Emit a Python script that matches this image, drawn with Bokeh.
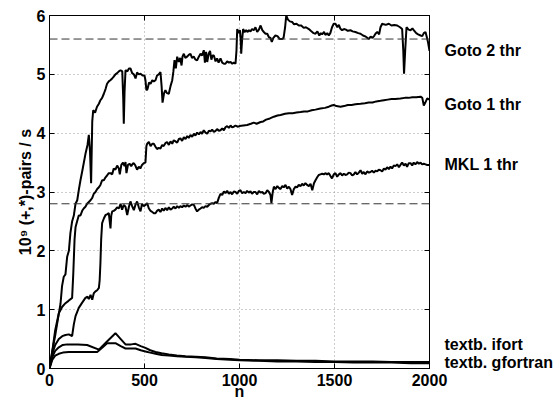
from bokeh.plotting import figure
from bokeh.models import Span, LinearAxis, Range1d, FixedTicker
from bokeh.embed import file_html
from bokeh.resources import INLINE

FONT = "Liberation Sans"

# ---------------- data ----------------
goto2_n = [0, 15, 32, 50, 58, 66, 75, 84, 93, 102, 110, 119, 128, 137, 146, 155, 163, 175, 190, 200, 207, 213, 219, 225,
           230, 240, 250, 260, 268, 277, 286, 295, 303, 312, 320, 330, 338, 347, 356, 365, 374, 383, 388, 391, 395,
           400, 410, 418, 426, 435, 444, 453, 461, 470, 479, 490, 500, 505, 510, 516, 524, 532, 541, 549, 558, 566,
           575, 584, 590, 595, 603, 610, 618, 628, 637, 646, 652, 658, 665, 672, 681, 688, 695, 700, 707, 715, 724,
           733, 742, 750, 760, 768, 777, 786, 795, 803, 812, 818, 824, 830, 838, 845, 852, 858, 865, 874, 882, 890,
           900, 909, 918, 926, 935, 944, 953, 962, 970, 979, 984, 988, 995, 1002, 1006, 1009, 1014, 1019, 1027, 1035,
           1043, 1050, 1058, 1066, 1075, 1084, 1093, 1102, 1111, 1120, 1128, 1137, 1146, 1155, 1163, 1170, 1178, 1189,
           1200, 1212, 1225, 1232, 1240, 1246, 1255, 1265, 1277, 1287, 1300, 1312, 1325, 1338, 1350, 1365, 1375, 1390,
           1400, 1410, 1420, 1428, 1435, 1445, 1452, 1462, 1470, 1478, 1487, 1496, 1505, 1515, 1523, 1530, 1540, 1550,
           1560, 1570, 1584, 1595, 1610, 1625, 1637, 1650, 1665, 1681, 1690, 1700, 1710, 1718, 1725, 1735, 1742, 1751,
           1760, 1770, 1786, 1800, 1815, 1830, 1845, 1856, 1862, 1866, 1872, 1879, 1890, 1900, 1910, 1917, 1930, 1940,
           1953, 1962, 1970, 1979, 1986, 1992, 2000]
goto2_y = [0.0, 0.3, 0.6, 0.95, 1.1, 1.4, 1.56, 1.6, 1.9, 2.0, 2.3, 2.5, 2.6, 2.8, 2.86, 3.05, 3.2, 3.4, 3.66, 3.8, 3.97, 3.7, 3.15, 4.2,
           4.39, 4.35, 4.45, 4.5, 4.56, 4.6, 4.67, 4.75, 4.84, 4.88, 4.9, 4.93, 4.96, 5.0, 5.02, 5.05, 5.07, 5.05, 4.6, 4.16, 4.7,
           5.07, 5.05, 5.1, 5.1, 5.02, 5.0, 4.93, 5.03, 5.0, 5.01, 4.98, 4.98, 4.9, 4.73, 4.75, 4.86, 4.84, 4.9, 4.88, 4.9, 4.98,
           5.0, 5.04, 4.8, 4.52, 4.68, 4.73, 4.68, 4.67, 4.8, 4.9, 5.05, 5.24, 5.1, 5.3, 5.21, 5.28, 5.15, 5.3, 5.35, 5.28, 5.3,
           5.33, 5.35, 5.28, 5.3, 5.25, 5.24, 5.3, 5.35, 5.32, 5.41, 5.2, 5.38, 5.21, 5.35, 5.4, 5.25, 5.32, 5.32, 5.22, 5.27, 5.2,
           5.27, 5.2, 5.18, 5.18, 5.22, 5.2, 5.21, 5.18, 5.2, 5.18, 5.4, 5.77, 5.7, 5.75, 5.6, 5.35, 5.6, 5.77, 5.72, 5.75,
           5.72, 5.75, 5.73, 5.77, 5.75, 5.8, 5.72, 5.76, 5.83, 5.75, 5.72, 5.69, 5.69, 5.63, 5.62, 5.55, 5.62, 5.66,
           5.65, 5.6, 5.6, 5.62, 5.8, 6.0, 5.93, 5.9, 5.89, 5.85, 5.86, 5.83, 5.83, 5.79, 5.8, 5.77, 5.74, 5.7,
           5.69, 5.73, 5.66, 5.7, 5.68, 5.72, 5.67, 5.7, 5.66, 5.7, 5.8, 5.86, 5.86, 5.8, 5.84, 5.78, 5.75, 5.77,
           5.76, 5.74, 5.75, 5.73, 5.72, 5.7, 5.69, 5.66, 5.64, 5.6, 5.64, 5.62, 5.66, 5.7, 5.72, 5.68, 5.8, 5.86,
           5.85, 5.84, 5.86, 5.83, 5.84, 5.83, 5.8, 5.77, 5.4, 5.01, 5.4, 5.8, 5.76, 5.75, 5.78, 5.75, 5.7, 5.68,
           5.66, 5.65, 5.7, 5.72, 5.63, 5.55, 5.4]

goto1_n = [0, 15, 30, 49, 67, 84, 100, 119, 125, 132, 137, 145, 154, 163, 172, 180, 189, 198, 207, 216, 225, 233, 242, 251,
           260, 268, 277, 286, 295, 303, 312, 321, 330, 338, 347, 356, 365, 370, 378, 387, 395, 400, 405, 413, 422, 430,
           438, 444, 452, 461, 470, 478, 487, 496, 505, 510, 514, 523, 532, 541, 549, 558, 566, 575, 584, 593, 601, 610,
           619, 628, 637, 646, 654, 663, 672, 681, 689, 698, 707, 716, 725, 733, 742, 751, 760, 768, 777, 786, 795, 803,
           812, 821, 830, 839, 848, 856, 865, 874, 882, 891, 900, 909, 918, 926, 935, 944, 953, 961, 970, 979, 990, 1000,
           1020, 1040, 1060, 1075, 1090, 1111, 1125, 1140, 1160, 1181, 1200, 1216, 1240, 1260, 1280, 1300, 1321, 1340,
           1360, 1380, 1400, 1426, 1450, 1470, 1485, 1496, 1510, 1532, 1550, 1570, 1590, 1610, 1637, 1660, 1680, 1700,
           1720, 1742, 1760, 1780, 1800, 1820, 1847, 1870, 1890, 1910, 1930, 1953, 1962, 1970, 1978, 1988, 2000]
goto1_y = [0.0, 0.3, 0.65, 0.94, 1.05, 1.11, 1.15, 1.2, 1.6, 2.2, 2.4, 2.5, 2.6, 2.6, 2.68, 2.72, 2.75, 2.8, 2.83, 2.86, 2.9, 2.97, 3.0, 3.05,
           3.08, 3.12, 3.2, 3.2, 3.25, 3.28, 3.32, 3.32, 3.3, 3.4, 3.38, 3.45, 3.4, 3.3, 3.46, 3.5, 3.44, 3.51, 3.32, 3.46, 3.48, 3.44,
           3.48, 3.49, 3.45, 3.38, 3.43, 3.4, 3.46, 3.49, 3.5, 3.78, 3.82, 3.85, 3.78, 3.82, 3.82, 3.77, 3.73, 3.75, 3.74, 3.8, 3.78, 3.83,
           3.85, 3.8, 3.86, 3.82, 3.88, 3.86, 3.84, 3.9, 3.91, 3.87, 3.93, 3.9, 3.95, 3.92, 3.97, 3.94, 3.99, 3.96, 4.01, 3.98, 4.02, 3.99,
           4.05, 4.01, 3.99, 4.04, 4.03, 4.06, 4.02, 4.04, 4.07, 4.04, 4.05, 4.08, 4.05, 4.1, 4.12, 4.09, 4.13, 4.1, 4.11, 4.13, 4.11, 4.12,
           4.13, 4.14, 4.16, 4.18, 4.16, 4.19, 4.2, 4.23, 4.25, 4.28, 4.3, 4.31, 4.33, 4.34, 4.34, 4.35, 4.36, 4.37,
           4.37, 4.39, 4.4, 4.42, 4.43, 4.45, 4.47, 4.48, 4.46, 4.45, 4.46, 4.48, 4.48, 4.49, 4.5, 4.51, 4.52, 4.52,
           4.54, 4.55, 4.56, 4.57, 4.58, 4.58, 4.59, 4.6, 4.6, 4.61, 4.61, 4.62, 4.6, 4.47, 4.52, 4.59, 4.57]

mkl1_n = [0, 15, 30, 49, 67, 84, 102, 119, 128, 137, 154, 172, 189, 200, 207, 216, 225, 233, 242, 251, 260, 264, 268, 272, 277,
          286, 295, 303, 312, 317, 321, 325, 330, 338, 347, 356, 365, 374, 382, 391, 400, 409, 418, 426, 435, 444, 452, 461,
          470, 479, 487, 496, 505, 514, 523, 532, 541, 549, 558, 566, 575, 584, 593, 601, 610, 619, 628, 637, 646, 654, 663,
          672, 681, 689, 698, 707, 716, 725, 733, 742, 751, 760, 768, 777, 786, 795, 803, 812, 821, 830, 839, 848, 856, 865,
          874, 882, 891, 900, 909, 918, 926, 935, 944, 953, 961, 970, 979, 988, 997, 1005, 1014, 1023, 1032, 1040, 1049,
          1058, 1066, 1075, 1084, 1093, 1102, 1111, 1120, 1128, 1137, 1146, 1155, 1163, 1168, 1175, 1181, 1190, 1199, 1207,
          1216, 1225, 1233, 1242, 1251, 1260, 1268, 1277, 1286, 1295, 1303, 1312, 1321, 1330, 1338, 1347, 1356, 1365, 1374,
          1383, 1392, 1400, 1409, 1417, 1426, 1435, 1444, 1452, 1461, 1470, 1479, 1487, 1496, 1505, 1514, 1523, 1532, 1540,
          1549, 1558, 1567, 1575, 1584, 1593, 1602, 1610, 1619, 1628, 1637, 1646, 1654, 1663, 1672, 1681, 1689, 1698, 1707,
          1716, 1725, 1733, 1742, 1751, 1760, 1768, 1777, 1786, 1795, 1803, 1812, 1821, 1830, 1839, 1847, 1856, 1865, 1874,
          1882, 1891, 1900, 1909, 1917, 1926, 1935, 1944, 1953, 1961, 1970, 1979, 1988, 2000]
mkl1_y = [0.0, 0.25, 0.4, 0.5, 0.55, 0.57, 0.58, 0.55, 0.75, 0.89, 1.03, 1.12, 1.2, 1.22, 1.18, 1.25, 1.17, 1.28, 1.31, 1.33, 1.37, 1.5, 1.79, 2.2, 2.47,
          2.55, 2.61, 2.62, 2.64, 2.5, 2.38, 2.6, 2.67, 2.68, 2.7, 2.74, 2.72, 2.8, 2.7, 2.78, 2.75, 2.61, 2.75, 2.84, 2.76, 2.69, 2.78, 2.84,
          2.74, 2.67, 2.8, 2.76, 2.78, 2.81, 2.72, 2.68, 2.66, 2.64, 2.64, 2.68, 2.7, 2.66, 2.72, 2.68, 2.73, 2.69, 2.74, 2.7, 2.72, 2.75, 2.72,
          2.76, 2.73, 2.76, 2.74, 2.77, 2.75, 2.78, 2.75, 2.77, 2.79, 2.78, 2.72, 2.67, 2.7, 2.72, 2.74, 2.73, 2.76, 2.75, 2.78, 2.8, 2.81, 2.8,
          2.83, 2.81, 2.9, 2.97, 2.95, 3.01, 2.98, 3.02, 2.97, 3.0, 2.96, 3.01, 3.0, 2.97, 3.02, 3.03, 2.98, 3.0, 2.98, 3.02, 2.99,
          3.01, 2.97, 3.0, 3.0, 2.96, 3.02, 2.99, 3.0, 2.97, 2.98, 3.03, 3.0, 2.95, 2.81, 3.0, 3.09, 3.05, 3.1, 3.07,
          3.05, 3.1, 3.08, 3.12, 3.06, 3.09, 3.05, 2.95, 3.05, 3.09, 3.08, 3.12, 3.1, 3.14, 3.11, 3.15, 3.12, 3.1, 3.14,
          3.03, 3.15, 3.2, 3.25, 3.29, 3.3, 3.31, 3.3, 3.32, 3.3, 3.32, 3.27, 3.23, 3.3, 3.32, 3.26, 3.3, 3.32, 3.28,
          3.31, 3.29, 3.3, 3.33, 3.32, 3.28, 3.3, 3.34, 3.3, 3.33, 3.37, 3.31, 3.34, 3.3, 3.35, 3.33, 3.34, 3.36, 3.33,
          3.36, 3.35, 3.38, 3.37, 3.35, 3.4, 3.38, 3.42, 3.39, 3.43, 3.4, 3.45, 3.44, 3.47, 3.42, 3.46, 3.5, 3.45, 3.48,
          3.43, 3.49, 3.49, 3.45, 3.5, 3.47, 3.51, 3.48, 3.5, 3.47, 3.48, 3.47, 3.46, 3.46]

ifort_n = [0, 15, 30, 49, 70, 93, 150, 198, 260, 300, 347, 375, 400, 430, 453, 480, 505, 530, 558, 590, 628, 670, 716, 770,
           821, 880, 950, 1000, 1100, 1200, 1300, 1400, 1500, 1600, 1700, 1800, 1900, 2000]
ifort_y = [0.0, 0.2, 0.3, 0.36, 0.4, 0.41, 0.41, 0.40, 0.32, 0.45, 0.6, 0.5, 0.41, 0.41, 0.42, 0.38, 0.35, 0.31, 0.28, 0.26, 0.24,
           0.22, 0.21, 0.2, 0.19, 0.17, 0.16, 0.15, 0.14, 0.14, 0.13, 0.13, 0.12, 0.12, 0.12, 0.11, 0.11, 0.11]

gfort_n = [0, 15, 30, 49, 70, 102, 150, 200, 251, 280, 303, 347, 375, 400, 430, 453, 480, 505, 530, 558, 590, 628, 670, 716,
           770, 821, 880, 950, 1000, 1100, 1200, 1300, 1400, 1500, 1600, 1700, 1800, 1900, 2000]
gfort_y = [0.0, 0.15, 0.22, 0.25, 0.27, 0.28, 0.28, 0.28, 0.28, 0.36, 0.43, 0.43, 0.38, 0.34, 0.34, 0.34, 0.31, 0.29, 0.27, 0.25,
           0.23, 0.22, 0.21, 0.2, 0.19, 0.18, 0.16, 0.15, 0.14, 0.13, 0.12, 0.12, 0.11, 0.11, 0.1, 0.1, 0.1, 0.09, 0.09]

peak_levels = [5.6, 2.8]
series_labels = ["Goto 2 thr", "Goto 1 thr", "MKL 1 thr", "textb. ifort", "textb. gfortran"]
x_ticks = [0, 500, 1000, 1500, 2000]
y_ticks = [0, 1, 2, 3, 4, 5, 6]

# ---------------- figure ----------------
p = figure(width=558, height=402, x_range=Range1d(0, 2000), y_range=Range1d(0, 6),
           output_backend="svg", toolbar_location=None,
           min_border_left=49, min_border_right=129, min_border_top=15, min_border_bottom=4)
p.background_fill_color = "white"
p.border_fill_color = "white"
p.outline_line_color = "black"
p.outline_line_width = 1

for ax in (p.xaxis[0], p.yaxis[0]):
    ax.axis_line_color = "black"
    ax.major_tick_in = 5
    ax.major_tick_out = 0
    ax.minor_tick_line_color = None
    ax.major_label_text_font = FONT
    ax.major_label_text_font_size = "16px"
    ax.major_label_text_font_style = "bold"
    ax.major_label_text_color = "black"
    ax.axis_label_text_font = FONT
    ax.axis_label_text_font_size = "16px"
    ax.axis_label_text_font_style = "bold"
    ax.axis_label_text_color = "black"

p.xaxis[0].ticker = FixedTicker(ticks=x_ticks)
p.yaxis[0].ticker = FixedTicker(ticks=y_ticks)
p.xaxis[0].axis_label = "n"
p.yaxis[0].axis_label = "10\u2079 (+,*)-pairs / s"
p.xaxis[0].major_label_standoff = 5
p.xaxis[0].axis_label_standoff = -6
p.yaxis[0].major_label_standoff = 4
p.yaxis[0].axis_label_standoff = 0

# mirrored ticks on top (minor ticks only, no labels)
top_ax = LinearAxis(ticker=FixedTicker(ticks=[], minor_ticks=x_ticks),
                    major_tick_line_color=None, minor_tick_in=5, minor_tick_out=0,
                    minor_tick_line_color="black", axis_line_color="black",
                    major_label_standoff=0)
p.add_layout(top_ax, "above")

# right axis: series names as labels, mirrored integer ticks as minor ticks
label_y = [5.41, 4.49, 3.47, 0.41, 0.11]
right_ax = LinearAxis(ticker=FixedTicker(ticks=label_y, minor_ticks=y_ticks),
                      major_label_overrides={v: t for v, t in zip(label_y, series_labels)},
                      major_tick_line_color=None, minor_tick_in=5, minor_tick_out=0,
                      minor_tick_line_color="black", axis_line_color="black",
                      major_label_standoff=9, major_label_text_font=FONT,
                      major_label_text_font_size="16px", major_label_text_font_style="bold",
                      major_label_text_color="black")
p.add_layout(right_ax, "right")

p.xgrid.ticker = FixedTicker(ticks=x_ticks)
p.ygrid.ticker = FixedTicker(ticks=y_ticks)
for g in (p.xgrid[0], p.ygrid[0]):
    g.grid_line_color = "#9a9a9a"
    g.grid_line_dash = "1 3"
    g.grid_line_width = 1

for lvl in peak_levels:
    p.add_layout(Span(location=lvl, dimension="width", line_color="#333333",
                      line_dash="8 4", line_width=1))

for xs, ys in [(gfort_n, gfort_y), (ifort_n, ifort_y), (mkl1_n, mkl1_y),
               (goto1_n, goto1_y), (goto2_n, goto2_y)]:
    p.line(xs, ys, line_color="black", line_width=2)

open("out.html", "w").write(file_html(p, INLINE))
